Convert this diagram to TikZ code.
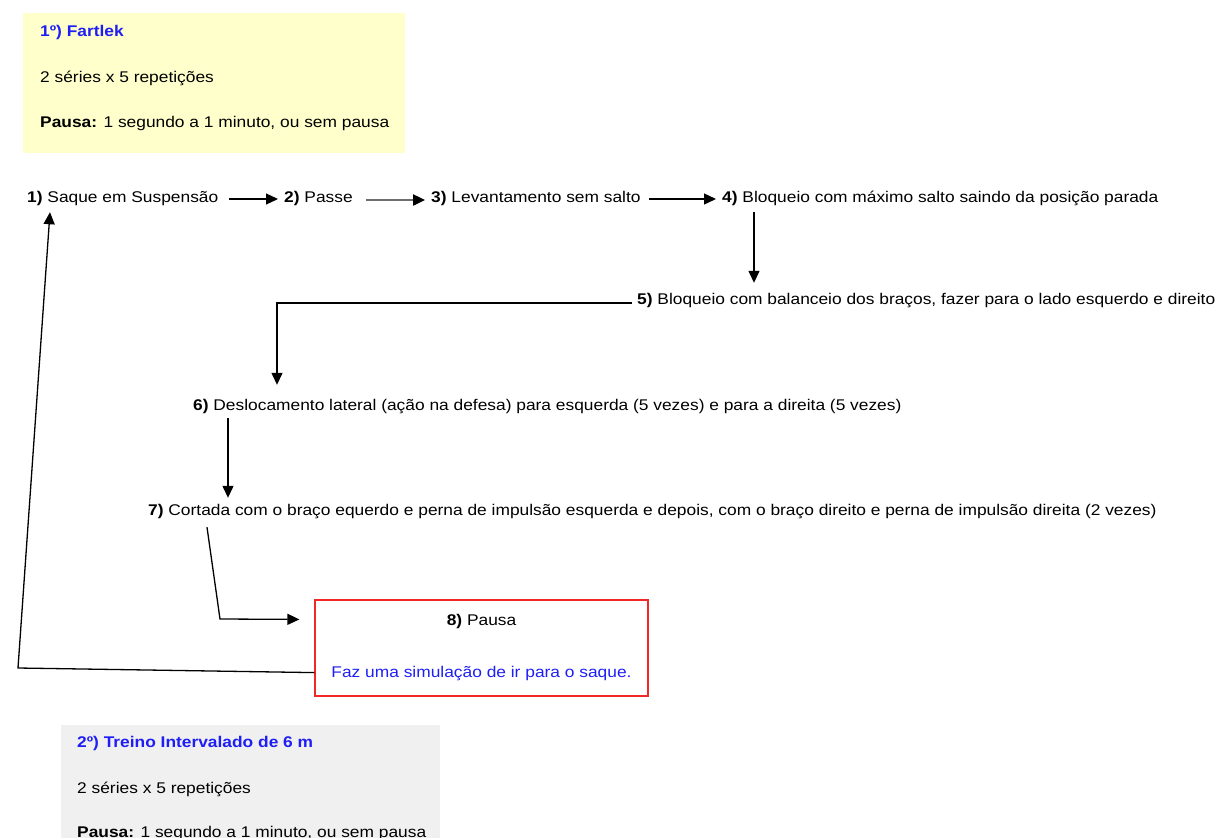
\documentclass[tikz,border=0pt]{standalone}
\usepackage{fontspec}
\setmainfont{Liberation Sans}[FakeStretch=1.12]
\usetikzlibrary{arrows.meta,calc}

\definecolor{titleblue}{RGB}{30,30,245}
\definecolor{boxred}{RGB}{240,40,40}
\definecolor{noteyellow}{RGB}{255,255,204}
\definecolor{notegray}{RGB}{240,240,240}
\definecolor{linegray}{RGB}{110,110,110}

\tikzset{
    stepnode/.style={inner sep=0pt, anchor=west, text height=12pt, text depth=4pt},
    notebox/.style={anchor=north west, inner sep=0pt},
    notetxt/.style={anchor=base west, inner sep=0pt},
    arr/.style={-{Triangle[length=12pt,width=11pt,color=black]}, line width=1.3pt}
}

\begin{document}
\begin{tikzpicture}[x=1pt, y=-1pt, font=\fontsize{15.5}{18}\selectfont]
        % Page of the reference
        \useasboundingbox (0,0) rectangle (1216,838);

        % First exercise note
        \node[notebox, fill=noteyellow, minimum width=382pt, minimum height=140pt] (fartlek) at (23,13) {};
        \node[notetxt] (fartlekA) at (40,36) {\textcolor{titleblue}{\textbf{1º) Fartlek}}};
        \node[notetxt] (fartlekB) at (40,82) {2 séries x 5 repetições};
        \node[notetxt] (fartlekC) at (40,127) {\textbf{Pausa:} 1 segundo a 1 minuto, ou sem pausa};

        % The steps
        \node[stepnode] (saque) at (27,198) {\textbf{1)} Saque em Suspensão};
        \node[stepnode] (passe) at (284,198) {\textbf{2)} Passe};
        \node[stepnode] (levant) at (431,198) {\textbf{3)} Levantamento sem salto};
        \node[stepnode] (bloqmax) at (722,198) {\textbf{4)} Bloqueio com máximo salto saindo da posição parada};
        \node[stepnode] (balanc) at (637,300) {\textbf{5)} Bloqueio com balanceio dos braços, fazer para o lado esquerdo e direito};
        \node[stepnode] (desloc) at (193,406) {\textbf{6)} Deslocamento lateral (ação na defesa) para esquerda (5 vezes) e para a direita (5 vezes)};
        \node[stepnode] (cortada) at (148,511) {\textbf{7)} Cortada com o braço equerdo e perna de impulsão esquerda e depois, com o braço direito e perna de impulsão direita (2 vezes)};

        % Pause box
        \node[draw=boxred, line width=1.2pt, minimum width=333pt, minimum height=96pt, align=center, inner sep=0pt] (pausa) at (481.5,648)
            {\textbf{8)} Pausa\\[34pt]\textcolor{titleblue}{Faz uma simulação de ir para o saque.}};

        % Arrows between the steps
        \draw[arr] ($(saque.east)+(11,1)$) -- ($(passe.west)+(-6,1)$);
        \draw[arr, draw=linegray, line width=2.4pt] ($(passe.east)+(13,2)$) -- ($(levant.west)+(-6,2)$);
        \draw[arr] ($(levant.east)+(8,1)$) -- ($(bloqmax.west)+(-6,1)$);
        \draw[arr] ($(bloqmax.south west)+(32,6)$) -- ($(bloqmax.south west |- balanc.north)+(32,-9)$);
        \draw[arr] ($(balanc.west)+(-5,3)$) -| ($(desloc.north west)+(84,-13)$);
        \draw[arr] ($(desloc.south west)+(35,4)$) -- ($(desloc.south west |- cortada.north)+(35,-5)$);

        % Into the pause and back to the start
        \coordinate (kink7) at (220,619);
        \draw[arr] ($(cortada.south west)+(59,8)$) -- (kink7) -- ($(pausa.north west)+(-15,20)$);
        \coordinate (kink8) at (18,668);
        \draw[arr] ($(pausa.south west)+(0,-24)$) -- (kink8) -- ($(saque.south west)+(23,6)$);

        % Second exercise note
        \node[notebox, fill=notegray, minimum width=379pt, minimum height=130pt] (treino) at (61,725) {};
        \node[notetxt] (treinoA) at (77,747) {\textcolor{titleblue}{\textbf{2º) Treino Intervalado de 6 m}}};
        \node[notetxt] (treinoB) at (77,793) {2 séries x 5 repetições};
        \node[notetxt] (treinoC) at (77,837) {\textbf{Pausa:} 1 segundo a 1 minuto, ou sem pausa};
    \end{tikzpicture}
\end{document}
